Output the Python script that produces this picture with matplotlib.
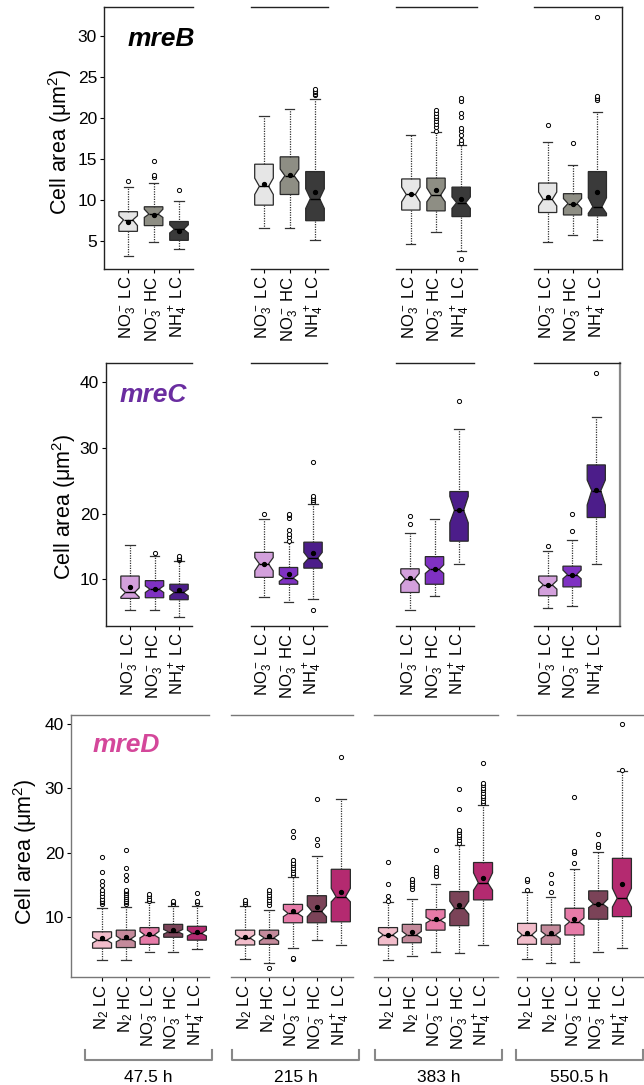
import matplotlib
matplotlib.use('Agg')
import matplotlib.pyplot as plt
from matplotlib.lines import Line2D

plt.rc('font', family='Liberation Sans')
plt.rc('mathtext', fontset='custom', rm='Liberation Sans', it='Liberation Sans:italic', bf='Liberation Sans:bold')

# ---------------- data ----------------
timepoints = ['47.5 h', '215 h', '383 h', '550.5 h']
labels3 = [r'NO$_3^-$ LC', r'NO$_3^-$ HC', r'NH$_4^+$ LC']
labels5 = [r'N$_2$ LC', r'N$_2$ HC', r'NO$_3^-$ LC', r'NO$_3^-$ HC', r'NH$_4^+$ LC']

# mreB : 4 time points x 3 conditions
mreB_whislo = [[3.2, 4.9, 4.0], [6.6, 6.6, 5.2], [4.6, 6.1, 3.8], [4.9, 5.8, 5.2]]
mreB_q1 = [[6.2, 6.9, 5.1], [9.4, 10.7, 7.5], [8.8, 8.7, 8.0], [8.5, 8.2, 8.1]]
mreB_med = [[7.6, 8.3, 6.45], [11.7, 13.0, 10.2], [10.7, 10.6, 9.7], [10.1, 9.6, 9.2]]
mreB_q3 = [[8.6, 9.2, 7.4], [14.4, 15.3, 13.5], [12.6, 12.7, 11.6], [12.1, 10.8, 13.5]]
mreB_whishi = [[11.6, 12.1, 9.9], [20.3, 21.2, 22.4], [18.0, 18.3, 16.8], [17.1, 14.3, 20.8]]
mreB_mean = [[7.4, 8.2, 6.3], [12.0, 13.1, 11.0], [10.8, 11.3, 10.2], [10.4, 9.6, 11.0]]
mreB_cilo = [[6.9, 7.9, 6.0], [10.7, 12.2, 9.0], [9.8, 9.8, 9.0], [9.3, 9.0, 8.4]]
mreB_cihi = [[8.1, 8.9, 7.0], [12.7, 13.8, 11.4], [11.6, 11.5, 10.4], [11.0, 10.2, 10.3]]
mreB_fliers = [
    [[12.4], [12.8, 13.1, 14.8], [11.3]],
    [[], [], [22.8, 23.0, 23.2, 23.4, 23.6]],
    [[], [18.5, 18.9, 19.3, 19.7, 20.0, 20.3, 20.6, 21.0],
     [2.8, 17.0, 17.4, 18.0, 18.4, 18.8, 20.2, 20.6, 22.1, 22.5]],
    [[19.2], [17.0], [22.3, 22.5, 22.7, 32.4]],
]

# mreC : 4 time points x 3 conditions
mreC_whislo = [[5.3, 5.3, 4.3], [7.3, 6.5, 7.0], [5.3, 7.5, 12.35], [5.7, 6.0, 12.35]]
mreC_q1 = [[7.1, 7.2, 6.9], [10.3, 9.25, 11.7], [8.0, 9.25, 15.8], [7.5, 8.85, 19.4]]
mreC_med = [[8.0, 8.5, 8.0], [12.35, 10.2, 13.2], [10.05, 11.5, 20.5], [9.15, 10.7, 23.5]]
mreC_q3 = [[10.5, 9.8, 9.25], [14.1, 11.8, 15.65], [11.6, 13.45, 23.35], [10.5, 12.0, 27.4]]
mreC_whishi = [[15.2, 13.5, 12.85], [19.15, 15.7, 21.4], [17.0, 19.2, 32.85], [14.3, 16.0, 34.75]]
mreC_mean = [[8.8, 8.6, 8.3], [12.3, 10.8, 14.05], [10.2, 11.5, 20.5], [9.1, 10.7, 23.55]]
mreC_cilo = [[7.3, 8.0, 7.5], [11.3, 9.7, 12.4], [9.2, 10.9, 18.6], [8.5, 10.1, 21.3]]
mreC_cihi = [[8.7, 9.0, 8.5], [13.3, 10.7, 14.1], [10.9, 12.2, 22.6], [9.8, 11.4, 25.1]]
mreC_fliers = [
    [[], [14.0], [12.9, 13.1, 13.3, 13.5]],
    [[19.9], [15.9, 16.4, 16.9, 17.5, 19.3, 19.8, 20.0], [5.3, 21.7, 22.0, 22.4, 22.7, 27.8]],
    [[18.4, 19.7], [], [37.05]],
    [[15.1], [17.3, 19.95], [41.4]],
]

# mreD : 4 time points x 5 conditions
mreD_whislo = [[3.35, 3.35, 4.55, 4.55, 5.05], [3.6, 2.85, 5.3, 6.55, 5.7],
               [3.35, 4.0, 4.65, 4.4, 5.7], [3.5, 2.9, 3.0, 4.55, 5.3]]
mreD_q1 = [[5.2, 5.3, 5.8, 6.9, 6.45], [5.7, 5.8, 9.15, 9.15, 9.3],
           [5.7, 6.05, 8.0, 8.7, 12.7], [5.8, 5.8, 7.25, 9.7, 10.1]]
mreD_med = [[6.45, 6.6, 7.25, 7.75, 7.5], [6.8, 6.8, 10.6, 10.9, 13.2],
            [7.25, 7.25, 9.55, 11.4, 15.35], [7.25, 7.25, 9.3, 12.05, 12.95]]
mreD_q3 = [[7.75, 8.0, 8.4, 8.9, 8.6], [8.0, 8.0, 12.0, 13.35, 17.45],
           [8.4, 8.9, 11.2, 14.0, 18.5], [9.05, 8.8, 11.4, 14.1, 19.15]]
mreD_whishi = [[11.5, 11.65, 12.3, 11.8, 11.8], [11.8, 11.1, 16.3, 19.5, 28.3],
               [12.4, 12.8, 15.1, 21.2, 27.4], [14.0, 13.2, 17.45, 20.1, 32.75]]
mreD_mean = [[6.8, 7.0, 7.4, 8.0, 7.75], [7.0, 7.1, 10.9, 11.55, 14.0],
             [7.3, 7.75, 9.7, 11.9, 16.05], [7.6, 7.5, 9.7, 12.05, 15.1]]
mreD_cilo = [[6.0, 6.2, 6.8, 7.4, 7.1], [6.3, 6.3, 10.1, 10.1, 12.4],
             [6.7, 6.8, 9.1, 10.5, 14.2], [6.6, 6.7, 8.7, 11.5, 11.6]]
mreD_cihi = [[6.9, 7.1, 7.8, 8.1, 8.0], [7.3, 7.3, 11.2, 11.8, 14.5],
             [7.8, 7.8, 10.0, 12.5, 16.9], [7.9, 7.8, 9.9, 12.8, 14.5]]
mreD_fliers = [
    [[12.0, 12.3, 12.6, 12.9, 13.3, 13.7, 14.3, 15.0, 15.6, 17.1, 19.4],
     [12.0, 12.3, 12.6, 12.9, 13.2, 13.5, 13.8, 14.1, 14.3, 15.8, 16.6, 17.6, 20.4],
     [12.6, 12.9, 13.3, 13.6],
     [12.0, 12.3, 12.6],
     [12.2, 12.5, 13.8]],
    [[12.1, 12.4, 12.7],
     [2.15, 11.9, 12.3, 12.7, 13.1, 13.5, 13.9, 14.3],
     [3.5, 3.7, 16.5, 16.9, 17.3, 17.7, 18.1, 18.5, 18.9, 22.5, 23.4],
     [21.2, 22.1, 28.3],
     [34.9]],
    [[12.6, 13.3, 15.1, 18.6],
     [14.4, 14.8, 15.2, 15.6, 16.0],
     [16.4, 16.8, 17.3, 17.8, 20.45],
     [21.6, 22.0, 22.4, 22.8, 23.2, 23.6, 26.8, 29.9],
     [27.7, 28.1, 28.5, 28.9, 29.3, 29.7, 30.1, 30.5, 30.9, 34.0]],
    [[14.3, 15.6, 15.9],
     [14.0, 15.35, 16.7],
     [18.5, 20.0, 20.3, 28.7],
     [20.95, 21.4, 22.9],
     [32.8, 39.95]],
]

mreB_colors = ['#e6e6e6', '#8e8e84', '#3a3a3a']
mreC_colors = ['#d3a0dc', '#7f31c2', '#4c1d8a']
mreD_colors = ['#f2bdcb', '#c48a9b', '#e67ba8', '#7b4358', '#b42a70']

# ---------------- layout (pixels of a 644 x 1085 canvas) ----------------
W, H = 644, 1085
fig = plt.figure(figsize=(W / 100, H / 100), dpi=100)

rows = [
    dict(name='mreB', color='black', y=(7, 269), ylim=(1.6, 33.6), yticks=[5, 10, 15, 20, 25, 30],
         xs=[(104, 193), (251, 328), (396, 477), (534, 622)],
         xlims=[(0.05, 3.55), (0.49, 3.51), (0.41, 3.63), (0.45, 3.99)],
         width=0.73, labels=labels3, colors=mreB_colors, spine='#222222', right=True,
         stats=(mreB_whislo, mreB_q1, mreB_med, mreB_q3, mreB_whishi, mreB_mean, mreB_cilo, mreB_cihi, mreB_fliers),
         title_xy=(128, 46), ylab_xy=(60, 142)),
    dict(name='mreC', color='#6a2da0', y=(363, 626), ylim=(2.9, 42.9), yticks=[10, 20, 30, 40],
         xs=[(106, 192), (251, 327), (396, 474), (534, 620)],
         xlims=[(0.02, 3.53), (0.47, 3.57), (0.43, 3.61), (0.43, 3.98)],
         width=0.75, labels=labels3, colors=mreC_colors, spine='#222222', right=True,
         stats=(mreC_whislo, mreC_q1, mreC_med, mreC_q3, mreC_whishi, mreC_mean, mreC_cilo, mreC_cihi, mreC_fliers),
         title_xy=(120, 402), ylab_xy=(64, 507)),
    dict(name='mreD', color='#d4479a', y=(715, 977), ylim=(0.73, 41.4), yticks=[10, 20, 30, 40],
         xs=[(71, 209), (231, 353), (374, 498), (517, 644)],
         xlims=[(-0.31, 5.51), (0.41, 5.51), (0.41, 5.63), (0.58, 5.93)],
         width=0.8, labels=labels5, colors=mreD_colors, spine='#777777', right=False,
         stats=(mreD_whislo, mreD_q1, mreD_med, mreD_q3, mreD_whishi, mreD_mean, mreD_cilo, mreD_cihi, mreD_fliers),
         title_xy=(93, 752), ylab_xy=(25, 852)),
]

for r in rows:
    top, bot = r['y']
    whislo, q1, med, q3, whishi, mean, cilo, cihi, fliers = r['stats']
    for k, ((x0, x1), xl) in enumerate(zip(r['xs'], r['xlims'])):
        ax = fig.add_axes([x0 / W, 1 - bot / H, (x1 - x0) / W, (bot - top) / H])
        n = len(r['labels'])
        st = []
        for i in range(n):
            st.append(dict(whislo=whislo[k][i], q1=q1[k][i], med=med[k][i], q3=q3[k][i],
                           whishi=whishi[k][i], mean=mean[k][i], cilo=cilo[k][i], cihi=cihi[k][i],
                           fliers=fliers[k][i], label=r['labels'][i]))
        bp = ax.bxp(st, positions=range(1, n + 1), widths=r['width'], shownotches=True,
                    patch_artist=True, showmeans=True,
                    boxprops=dict(edgecolor='#2a2a2a', linewidth=0.9),
                    whiskerprops=dict(color='#333333', linestyle=(0, (1, 1)), linewidth=0.9),
                    capprops=dict(color='#333333', linewidth=0.9),
                    medianprops=dict(color='black', linewidth=1.0),
                    meanprops=dict(marker='o', markerfacecolor='black', markeredgecolor='black', markersize=2.8),
                    flierprops=dict(marker='o', markerfacecolor='white', markeredgecolor='black',
                                    markersize=3, markeredgewidth=0.7))
        for patch, c in zip(bp['boxes'], r['colors']):
            patch.set_facecolor(c)
        ax.set_xlim(*xl)
        ax.set_ylim(*r['ylim'])
        ax.tick_params(axis='x', labelrotation=90, labelsize=12, length=3, width=0.8, pad=2)
        for s in ax.spines.values():
            s.set_color(r['spine'])
            s.set_linewidth(1.0)
        ax.spines['left'].set_visible(k == 0)
        ax.spines['right'].set_visible(k == 3 and r['right'])
        if r['name'] == 'mreC':
            ax.spines['right'].set_color('#888888')
            ax.spines['right'].set_linewidth(1.6)
        if k == 0:
            ax.set_yticks(r['yticks'])
            ax.tick_params(axis='y', labelsize=12.5, length=3, width=0.8, pad=2)
        else:
            ax.set_yticks([])
        ax.patch.set_alpha(0)

    fig.text(r['title_xy'][0] / W, 1 - r['title_xy'][1] / H, r['name'], fontsize=19,
             fontweight='bold', style='italic', color=r['color'], ha='left', va='baseline')
    fig.text(r['ylab_xy'][0] / W, 1 - r['ylab_xy'][1] / H, r'Cell area ($\mathrm{\mu}$m$^2$)',
             fontsize=15.5, rotation=90, ha='center', va='center')

# brackets with time point labels under the mreD row
brackets = [(85, 212), (232, 359), (375, 502), (516, 643)]
for (b0, b1), lab in zip(brackets, timepoints):
    xs = [b0 / W, b0 / W, b1 / W, b1 / W]
    ys = [1 - 1050 / H, 1 - 1060 / H, 1 - 1060 / H, 1 - 1050 / H]
    fig.add_artist(Line2D(xs, ys, color='#888888', linewidth=1.5))
    fig.text((b0 + b1) / 2 / W, 1 - 1077 / H, lab, fontsize=12.5, ha='center', va='center')

fig.savefig('out.png', dpi=100)
